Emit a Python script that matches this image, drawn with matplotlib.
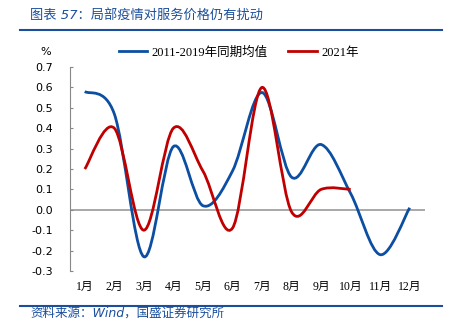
import numpy as np
import matplotlib
matplotlib.use('Agg')
import matplotlib.pyplot as plt
from matplotlib.path import Path
from matplotlib.patches import PathPatch
from matplotlib.lines import Line2D

plt.rcParams['font.family'] = ['DejaVu Sans', 'Noto Sans CJK SC']

MONTHS = ['1月', '2月', '3月', '4月', '5月', '6月', '7月', '8月', '9月', '10月', '11月', '12月']
AVG_2011_2019 = [0.58, 0.47, -0.23, 0.31, 0.02, 0.19, 0.575, 0.16, 0.32, 0.08, -0.22, 0.01]
Y2021 = [0.20, 0.40, -0.10, 0.40, 0.19, -0.09, 0.60, -0.01, 0.10, 0.10]
Y_TICKS = [-0.3, -0.2, -0.1, 0.0, 0.1, 0.2, 0.3, 0.4, 0.5, 0.6, 0.7]

BLUE = '#0B4EA2'
RED = '#C00000'
RULE = '#1B4F9C'
CJK_SERIF = ['Liberation Serif', 'Noto Sans CJK SC']


def smooth_path(x, y):
    # excel-style smoothed line: cubic bezier through every point
    pts = np.column_stack([x, y]).astype(float)
    ext = np.vstack([pts[:1], pts, pts[-1:]])
    verts = [pts[0]]
    codes = [Path.MOVETO]
    for i in range(len(pts) - 1):
        p0, p1, p2, p3 = ext[i], ext[i + 1], ext[i + 2], ext[i + 3]
        verts += [p1 + (p2 - p0) / 6, p2 - (p3 - p1) / 6, p2]
        codes += [Path.CURVE4] * 3
    return Path(verts, codes)


W, H = 453, 333
fig = plt.figure(figsize=(W / 100, H / 100), dpi=100)
ax = fig.add_axes([70 / W, 1 - 271 / H, (424.5 - 70) / W, (271 - 67) / H])

x_avg = np.arange(1, len(AVG_2011_2019) + 1)
x_21 = np.arange(1, len(Y2021) + 1)

ax.axhline(0, color='#999999', lw=1.2, zorder=1)
ax.add_patch(PathPatch(smooth_path(x_avg, AVG_2011_2019), fill=False,
                       edgecolor=BLUE, lw=2, zorder=3))
ax.add_patch(PathPatch(smooth_path(x_21, Y2021), fill=False,
                       edgecolor=RED, lw=2, zorder=4))

ax.set_xlim(0.5, 12.5)
ax.set_ylim(-0.3, 0.7)
ax.set_yticks(Y_TICKS)
ax.set_yticklabels([f'{v:.1f}' for v in Y_TICKS])
ax.set_xticks(x_avg)
ax.set_xticklabels(MONTHS, family=CJK_SERIF, fontsize=8.5)

for side in ['top', 'right', 'bottom']:
    ax.spines[side].set_visible(False)
ax.spines['left'].set_color('#888888')
ax.spines['left'].set_linewidth(0.8)
ax.tick_params(axis='y', direction='in', length=2.5, width=0.8, color='#888888',
               labelsize=8, pad=12)
ax.tick_params(axis='x', length=0, pad=7)

handles = [Line2D([], [], color=BLUE, lw=2), Line2D([], [], color=RED, lw=2)]
ax.legend(handles, ['2011-2019年同期均值', '2021年'], loc='center',
          bbox_to_anchor=(238.5 / W, 1 - 52.7 / H), bbox_transform=fig.transFigure,
          ncol=2, frameon=False, prop={'family': CJK_SERIF, 'size': 9},
          handlelength=2.3, handletextpad=0.35, columnspacing=1.6)

fig.text(46 / W, 1 - 52 / H, '%', fontsize=8, ha='center', va='center')

fig.text(30 / W, 1 - 15 / H, '图表 57：局部疫情对服务价格仍有扰动', color=RULE,
         fontsize=9.5, ha='left', va='center', style='italic')
fig.text(30 / W, 1 - 313 / H, '资料来源：Wind，国盛证券研究所', color=RULE,
         fontsize=9, ha='left', va='center', style='italic')
fig.add_artist(Line2D([19.5 / W, 442 / W], [1 - 29.7 / H] * 2, transform=fig.transFigure,
                      color=RULE, lw=1.5))
fig.add_artist(Line2D([19.5 / W, 442 / W], [1 - 305.7 / H] * 2, transform=fig.transFigure,
                      color=RULE, lw=1.5))

fig.savefig('out.png', dpi=100)
